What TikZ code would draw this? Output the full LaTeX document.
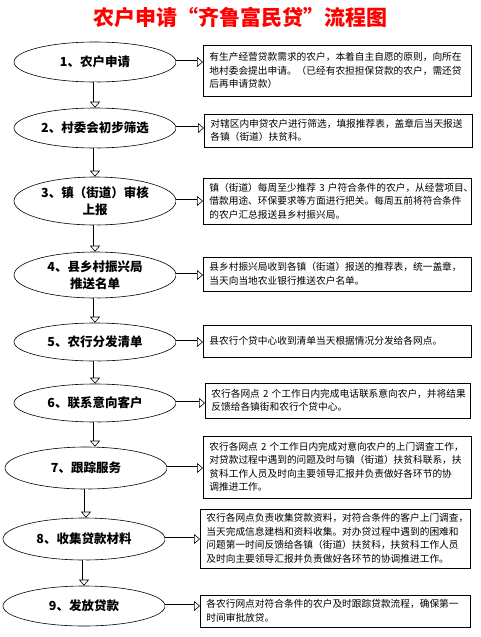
\documentclass[tikz,border=0pt]{standalone}
\usepackage{fontspec}
\newfontfamily\cjk{Noto Sans CJK SC}
\usepackage{xcolor}
\usepackage{tikz}
\usetikzlibrary{arrows.meta,shapes.geometric}

\begin{document}
\begin{tikzpicture}[x=1pt,y=-1pt,
  stepnode/.style={ellipse,draw,line width=0.6pt,minimum width=162pt,minimum height=40pt,inner sep=0pt,align=center,font=\cjk\bfseries\fontsize{12.5}{17}\selectfont},
  infobox/.style={rectangle,draw,line width=0.8pt,anchor=west,text width=256pt,align=left,inner xsep=6pt,inner ysep=0pt,font=\cjk\fontsize{9.7}{13.5}\selectfont},
  hollow/.style={double,double distance=3pt,line width=0.6pt,-{Triangle[open,length=6pt,width=10pt]}}]
  \useasboundingbox (0,0) rectangle (480,637);
  \node[font=\cjk\bfseries\fontsize{21}{24}\selectfont,text=red] (title) at (240,17) {农户申请“齐鲁富民贷”流程图};
  % steps
  \node[stepnode] (e1) at (95,62) {1、农户申请};
  \node[stepnode] (e2) at (95,128) {2、村委会初步筛选};
  \node[stepnode,minimum height=48pt] (e3) at (95,201) {3、镇（街道）审核\\上报};
  \node[stepnode,minimum height=46pt] (e4) at (95,275) {4、县乡村振兴局\\推送名单};
  \node[stepnode,minimum height=38pt] (e5) at (95,342) {5、农行分发清单};
  \node[stepnode,minimum height=38pt] (e6) at (95,403) {6、联系意向客户};
  \node[stepnode,minimum height=42pt] (e7) at (86,468) {7、跟踪服务};
  \node[stepnode,minimum height=42pt] (e8) at (84,539) {8、收集贷款材料};
  \node[stepnode] (e9) at (84,606) {9、发放贷款};
  % notes
  \node[infobox,minimum height=51pt] (b1) at (203,70.5) {有生产经营贷款需求的农户，本着自主自愿的原则，向所在\\地村委会提出申请。（已经有农担担保贷款的农户，需还贷\\后再申请贷款）};
  \node[infobox,minimum height=33pt] (b2) at (204,130.5) {对辖区内申贷农户进行筛选，填报推荐表，盖章后当天报送\\各镇（街道）扶贫科。};
  \node[infobox,minimum height=46pt] (b3) at (203,201) {镇（街道）每周至少推荐~3~户符合条件的农户，从经营项目、\\借款用途、环保要求等方面进行把关。每周五前将符合条件\\的农户汇总报送县乡村振兴局。};
  \node[infobox,minimum height=34pt] (b4) at (203,274) {县乡村振兴局收到各镇（街道）报送的推荐表，统一盖章，\\当天向当地农业银行推送农户名单。};
  \node[infobox,minimum height=32pt] (b5) at (203,341) {县农行个贷中心收到清单当天根据情况分发给各网点。};
  \node[infobox,minimum height=35pt,text width=253pt] (b6) at (205,400.5) {农行各网点~2~个工作日内完成电话联系意向农户，并将结果\\反馈给各镇街和农行个贷中心。};
  \node[infobox,minimum height=62pt] (b7) at (203,467) {农行各网点~2~个工作日内完成对意向农户的上门调查工作，\\对贷款过程中遇到的问题及时与镇（街道）扶贫科联系，扶\\贫科工作人员及时向主要领导汇报并负责做好各环节的协\\调推进工作。};
  \node[infobox,minimum height=59pt,text width=258pt] (b8) at (200,538.5) {农行各网点负责收集贷款资料，对符合条件的客户上门调查，\\当天完成信息建档和资料收集。对办贷过程中遇到的困难和\\问题第一时间反馈给各镇（街道）扶贫科，扶贫科工作人员\\及时向主要领导汇报并负责做好各环节的协调推进工作。};
  \node[infobox,minimum height=32pt,text width=258pt] (b9) at (200,611) {各农行网点对符合条件的农户及时跟踪贷款流程，确保第一\\时间审批放贷。};
  % arrows
  \foreach \i in {1,...,9}
    \draw[hollow] (e\i.east) -- (e\i.east -| b\i.west);
  \foreach \i/\j in {1/2,2/3,3/4,4/5,5/6,6/7,7/8,8/9}
    \draw[hollow] (e\i.south) -- (e\i.south |- e\j.north);
\end{tikzpicture}
\end{document}
